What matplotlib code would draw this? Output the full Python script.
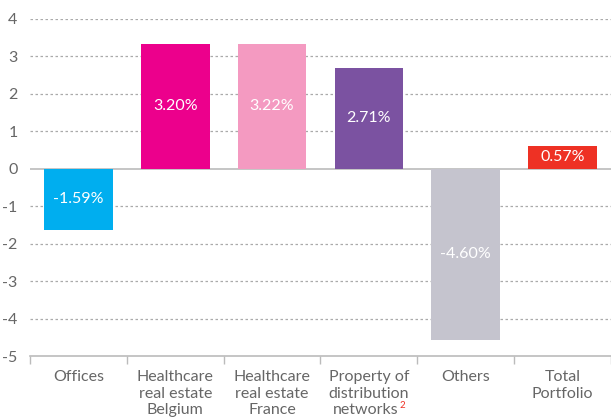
import matplotlib.pyplot as plt
import numpy as np

plt.rcParams['font.family'] = ['Lato', 'DejaVu Sans']

# Data (bar heights as drawn, labels as printed)
categories = ['Offices', 'Healthcare\nreal estate\nBelgium', 'Healthcare\nreal estate\nFrance',
              'Property of\ndistribution', 'Others', 'Total\nPortfolio']
heights = [-1.63, 3.33, 3.33, 2.69, -4.56, 0.61]
value_labels = ['-1.59%', '3.20%', '3.22%', '2.71%', '-4.60%', '0.57%']
colors = ['#00AEEF', '#EC008C', '#F49AC1', '#7B52A1', '#C5C4CE', '#EE3124']
y_ticks = [-5, -4, -3, -2, -1, 0, 1, 2, 3, 4]

text_color = '#666666'
line_color = '#BBBBBB'
xlab_size = 11.5
lspace = 1.24

fig = plt.figure(figsize=(6.11, 4.19), dpi=100)
ax = fig.add_axes([0.049, 0.150, 0.951, 0.805])

x = np.arange(len(categories))
ax.bar(x, heights, width=0.71, color=colors, zorder=3)

for xi, h, lab in zip(x, heights, value_labels):
    ax.text(xi, h / 2, lab, ha='center', va='center', color='white', fontsize=11.5, zorder=4)

# dotted gridlines, solid zero line
for t in y_ticks:
    if t == 0:
        ax.axhline(0, color=line_color, lw=1.2, zorder=2)
    elif t > -5:
        ax.axhline(t, color='#AAAAAA', lw=0.9, ls=(0, (2, 2)), zorder=1)

ax.set_xlim(-0.5, len(categories) - 0.5)
ax.set_ylim(-5, 4)
ax.set_yticks(y_ticks)
ax.set_yticklabels([str(t) for t in y_ticks])
ax.tick_params(axis='y', length=0, pad=9, labelsize=11.5, labelcolor=text_color)

ax.set_xticks(x)
ax.set_xticklabels(categories, linespacing=lspace)
ax.set_xticks(np.arange(len(categories) + 1) - 0.5, minor=True)
ax.tick_params(axis='x', which='major', length=0, pad=10, labelsize=xlab_size, labelcolor=text_color)
ax.tick_params(axis='x', which='minor', length=6, width=1, color=line_color, direction='out')

for s in ['top', 'right', 'left']:
    ax.spines[s].set_visible(False)
ax.spines['bottom'].set_color(line_color)
ax.spines['bottom'].set_linewidth(1.2)

# third line "networks" with red superscript, placed under the two-line tick label
fig.canvas.draw()
renderer = fig.canvas.get_renderer()
bb2 = ax.get_xticklabels()[3].get_window_extent(renderer)
bb3 = ax.get_xticklabels()[1].get_window_extent(renderer)
pitch = (bb3.height - bb2.height)
cx = (bb2.x0 + bb2.x1) / 2
top3 = bb3.y1 - 2 * pitch
W, H = fig.bbox.width, fig.bbox.height
net = fig.text((cx - 3) / W, top3 / H, 'networks', fontsize=xlab_size, color=text_color,
               ha='center', va='top')
nb = net.get_window_extent(renderer)
fig.text((nb.x1 + 1) / W, (nb.y0 + 0.55 * nb.height) / H, '2',
         color='#EE3124', fontsize=7, ha='left', va='bottom')

fig.savefig('out.png', dpi=100)
